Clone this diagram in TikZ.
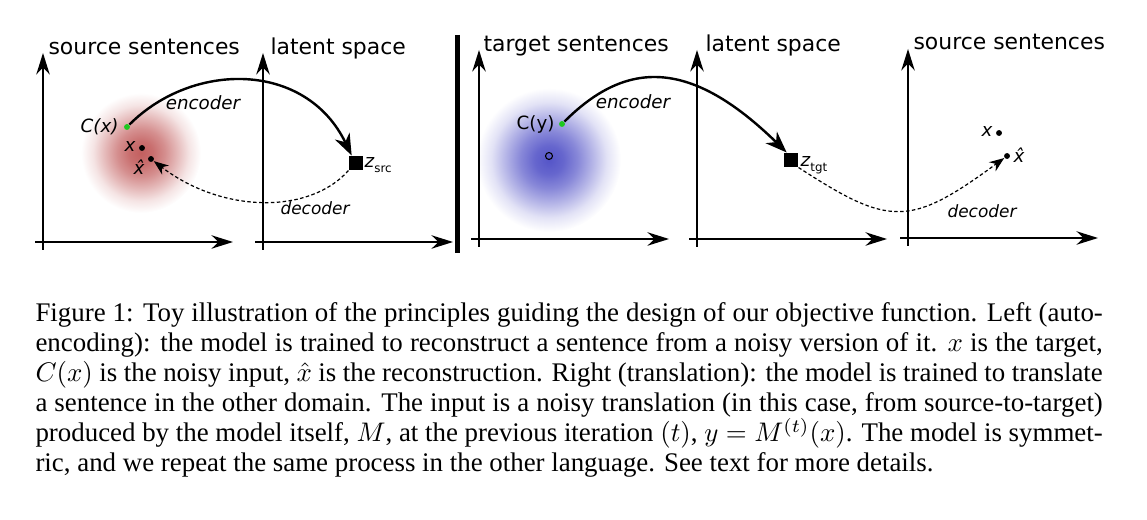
\documentclass[tikz,border=0pt]{standalone}
\usepackage{fontspec}
\setmainfont{Liberation Serif}
\newfontfamily\dejavu{DejaVu Sans}
\usetikzlibrary{arrows.meta}
\definecolor{blobred}{RGB}{195,95,95}
\definecolor{blobblue}{RGB}{85,85,200}
\definecolor{noisygreen}{RGB}{30,200,30}
\pgfdeclareradialshading{redblob}{\pgfpoint{0bp}{0bp}}{color(0bp)=(blobred); color(5bp)=(blobred!90!white); color(10bp)=(blobred!70!white); color(15bp)=(blobred!44!white); color(20bp)=(blobred!17!white); color(25bp)=(white); color(50bp)=(white)}
\pgfdeclareradialshading{blueblob}{\pgfpoint{0bp}{0bp}}{color(0bp)=(blobblue); color(5bp)=(blobblue!90!white); color(10bp)=(blobblue!70!white); color(15bp)=(blobblue!44!white); color(20bp)=(blobblue!17!white); color(25bp)=(white); color(50bp)=(white)}
\tikzset{
 axisline/.style={line width=0.55pt, -{Stealth[length=8pt,width=5pt,inset=2.6pt]}},
 heading/.style={font=\dejavu\fontsize{8.15}{10}\selectfont, inner sep=0pt, anchor=base west},
 tag/.style={font=\dejavu\fontsize{6.8}{8}\selectfont, inner sep=0pt},
 itag/.style={font=\dejavu\fontsize{6.8}{8}\selectfont\itshape, inner sep=0pt},
 dtag/.style={font=\dejavu\fontsize{6.3}{8}\selectfont\itshape, inner sep=0pt},
 sample/.style={circle, fill=black, inner sep=0pt, minimum size=2.2pt},
 noisy/.style={sample, fill=noisygreen},
 code/.style={rectangle, fill=black, inner sep=0pt, minimum size=5.2pt},
 enc/.style={line width=0.9pt, -{Stealth[length=8pt,width=6pt,inset=2.5pt]}},
 dec/.style={line width=0.45pt, dash pattern=on 1.3pt off 0.9pt, -{Stealth[length=5.5pt,width=4.2pt,inset=1.8pt]}},
}
\newcommand{\zsub}[1]{\textit{z}\raisebox{-0.25em}{\fontsize{4.4}{5}\selectfont\upshape #1}}

\begin{document}
\begin{tikzpicture}[x=0.372pt, y=-0.372pt]
    \useasboundingbox (0,0) rectangle (1147,520);
    \shade[shading=redblob] (141,153) circle (60);
    \shade[shading=blueblob] (549,160) circle (72);
    \foreach \ox/\oy in {43/242, 263/242, 479/239, 697/239, 908/238} {
        \draw[axisline] (\ox-8,\oy) -- (\ox+190,\oy);
        \draw[axisline] (\ox,\oy+8) -- (\ox,\oy-189);
    }
    \draw[line width=1.7pt] (457.5,35) -- (457.5,253);
    \node[heading] (src1) at (48,55) {source sentences};
    \node[heading] (lat1) at (270,55) {latent space};
    \node[heading] (tgt) at (483,52) {target sentences};
    \node[heading] (lat2) at (705,52) {latent space};
    \node[heading] (src2) at (913,50) {source sentences};

    \node[noisy] (cx) at (127,127) {};
    \node[itag, anchor=base east] (cxl) at (119,133) {C(x)};
    \node[sample] (x1) at (142,148) {};
    \node[itag, anchor=base east] (x1l) at (136,152) {x};
    \node[sample] (xh1) at (151,159) {};
    \node[itag, anchor=base] (xh1l) at (139,175) {\^{x}};
    \node[code] (zsrc) at (356,163) {};
    \node[tag, anchor=base west] (zsrcl) at (364,168) {\zsub{src}};
    \draw[enc] (cx) .. controls (193,61) and (306,61) .. (zsrc.120);
    \node[itag, anchor=base] (enc1) at (203,110) {encoder};
    \draw[dec] (zsrc.225) .. controls (310,214) and (223,214) .. (xh1);
    \node[dtag, anchor=base] (dec1) at (315,215) {decoder};

    \node[noisy] (cy) at (562,124) {};
    \node[tag, anchor=base east] (cyl) at (555,130) {C(y)};
    \node[circle, draw, line width=0.4pt, inner sep=0pt, minimum size=2.6pt] (y) at (549,156) {};
    \node[code] (ztgt) at (791,160) {};
    \node[tag, anchor=base west] (ztgtl) at (800,167) {\zsub{tgt}};
    \node[sample] (x2) at (999,133) {};
    \node[itag, anchor=base east] (x2l) at (993,137) {x};
    \node[sample] (xh2) at (1007,156) {};
    \node[itag, anchor=base west] (xh2l) at (1013,163) {\^{x}};
    \draw[enc] (cy) .. controls (627,59) and (691,59) .. (ztgt.120);
    \node[itag, anchor=base] (enc2) at (633,109) {encoder};
    \draw[dec] (ztgt.-45) .. controls (890,227) and (910,227) .. (xh2);
    \node[dtag, anchor=base] (dec2) at (982,218) {decoder};

    \node[anchor=base west, inner sep=0pt, text width=397pt, align=justify,
        font=\fontsize{10}{11.15}\selectfont] (caption) at (35,322)
        {Figure 1: Toy illustration of the principles guiding the design of our objective function. Left (auto-\linebreak
        encoding): the model is trained to reconstruct a sentence from a noisy version of it. $x$ is the target,\linebreak
        $C(x)$ is the noisy input, $\hat{x}$ is the reconstruction. Right (translation): the model is trained to translate\linebreak
        a sentence in the other domain. The input is a noisy translation (in this case, from source-to-target)\linebreak
        produced by the model itself, $M$, at the previous iteration $(t)$, $y = M^{(t)}(x)$. The model is symmet-\linebreak
        ric, and we repeat the same process in the other language. See text for more details.};
\end{tikzpicture}
\end{document}
